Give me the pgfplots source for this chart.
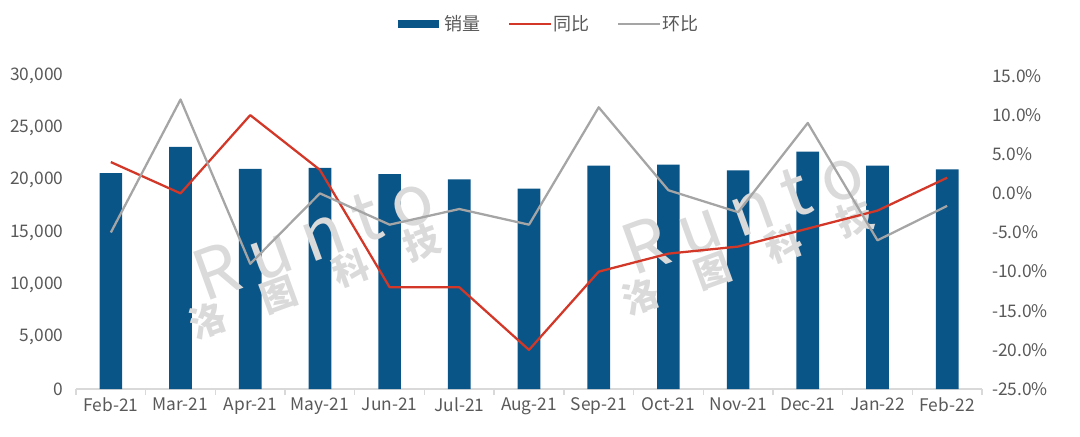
\documentclass[border=0pt]{standalone}
\usepackage{pgfplots}
\pgfplotsset{compat=1.18}
\usepackage{fontspec}
\setmainfont{Noto Sans CJK SC}
\definecolor{barblue}{RGB}{10,85,135}
\definecolor{yoyred}{RGB}{210,55,40}
\definecolor{momgray}{RGB}{165,165,165}
\definecolor{ticktext}{RGB}{89,89,89}
\definecolor{axisgray}{RGB}{217,217,217}
\definecolor{wmgray}{RGB}{218,218,218}

\newcommand{\wmlogo}{R\hspace{10pt}u\hspace{10pt}n\hspace{10pt}t\hspace{10pt}o}
\newcommand{\wmname}{洛\hspace{30pt}图\hspace{30pt}科\hspace{30pt}技}

\begin{document}
\begin{tikzpicture}
  \useasboundingbox (0pt,0pt) rectangle (810pt,327pt);

  \pgfplotsset{
    common/.style={
      at={(57pt,35.25pt)}, anchor=south west,
      scale only axis,
      width=679.5pt, height=234.75pt,
      xmin=-0.5, xmax=12.5,
      ticklabel style={font=\fontsize{13}{15}\selectfont, text=ticktext},
      /pgf/number format/assume math mode=true,
      major tick length=0pt,
    },
  }

  % bars, left axis
  \begin{axis}[
      common,
      ymin=0, ymax=30000,
      ytick={0,5000,...,30000},
      /pgf/number format/1000 sep={,},
      scaled y ticks=false,
      axis y line*=left,
      y axis line style={draw=none},
      axis x line*=bottom,
      x axis line style={draw=axisgray, line width=1pt},
      xtick={0,...,12},
      xticklabels={Feb-21,Mar-21,Apr-21,May-21,Jun-21,Jul-21,Aug-21,Sep-21,Oct-21,Nov-21,Dec-21,Jan-22,Feb-22},
      minor xtick={-0.5,0.5,...,12.5},
      minor tick length=4.5pt,
      tick align=outside,
      minor tick style={draw=axisgray, line width=1pt},
      xticklabel style={yshift=-3pt},
      yticklabel style={xshift=-6pt},
    ]
    \addplot[ybar, bar width=17pt, fill=barblue, draw=none]
      coordinates {
        (0,20700) (1,23200) (2,21100) (3,21200) (4,20600) (5,20100) (6,19200)
        (7,21400) (8,21500) (9,20950) (10,22750) (11,21400) (12,21050)
      };
  \end{axis}

  % watermarks
  \begin{scope}[text=wmgray]
    \node[rotate=20, font=\fontsize{52}{52}\selectfont] at (235pt,150pt) {\wmlogo};
    \node[rotate=20, font=\fontsize{27}{27}\selectfont\bfseries] at (236pt,116pt) {\wmname};
    \node[rotate=20, font=\fontsize{52}{52}\selectfont] at (557pt,169pt) {\wmlogo};
    \node[rotate=20, font=\fontsize{27}{27}\selectfont\bfseries] at (561pt,134pt) {\wmname};
  \end{scope}

  % lines, right axis
  \begin{axis}[
      common,
      ymin=-25, ymax=15,
      ytick={-25,-20,...,15},
      axis y line*=right,
      y axis line style={draw=none},
      axis x line=none,
      yticklabel={\pgfmathprintnumber[fixed,fixed zerofill,precision=1]{\tick}\%},
      yticklabel style={xshift=4pt},
      legend columns=-1,
      legend style={
        at={(0.52,1.165)}, anchor=center, draw=none, fill=none,
        font=\fontsize{13.5}{15}\selectfont, text=ticktext,
        nodes={inner xsep=1.5pt},
        /tikz/every even column/.append style={column sep=19pt},
      },
      legend image code/.code={
        \draw[#1] (0pt,0pt) -- (31pt,0pt);
      },
    ]
    \addlegendimage{barblue, line width=6pt}
    \addlegendentry{销量}
    \addplot[yoyred, line width=1.7pt, line join=round, mark=none]
      coordinates {
        (0,4.0) (1,0.0) (2,10.0) (3,3.0) (4,-12.0) (5,-12.0) (6,-20.0)
        (7,-10.0) (8,-7.7) (9,-6.8) (10,-4.5) (11,-2.2) (12,2.0)
      };
    \addlegendentry{同比}
    \addplot[momgray, line width=1.7pt, line join=round, mark=none]
      coordinates {
        (0,-5.0) (1,12.0) (2,-9.0) (3,0.0) (4,-4.0) (5,-2.0) (6,-4.0)
        (7,11.0) (8,0.4) (9,-2.4) (10,9.0) (11,-6.0) (12,-1.6)
      };
    \addlegendentry{环比}
  \end{axis}
\end{tikzpicture}
\end{document}
